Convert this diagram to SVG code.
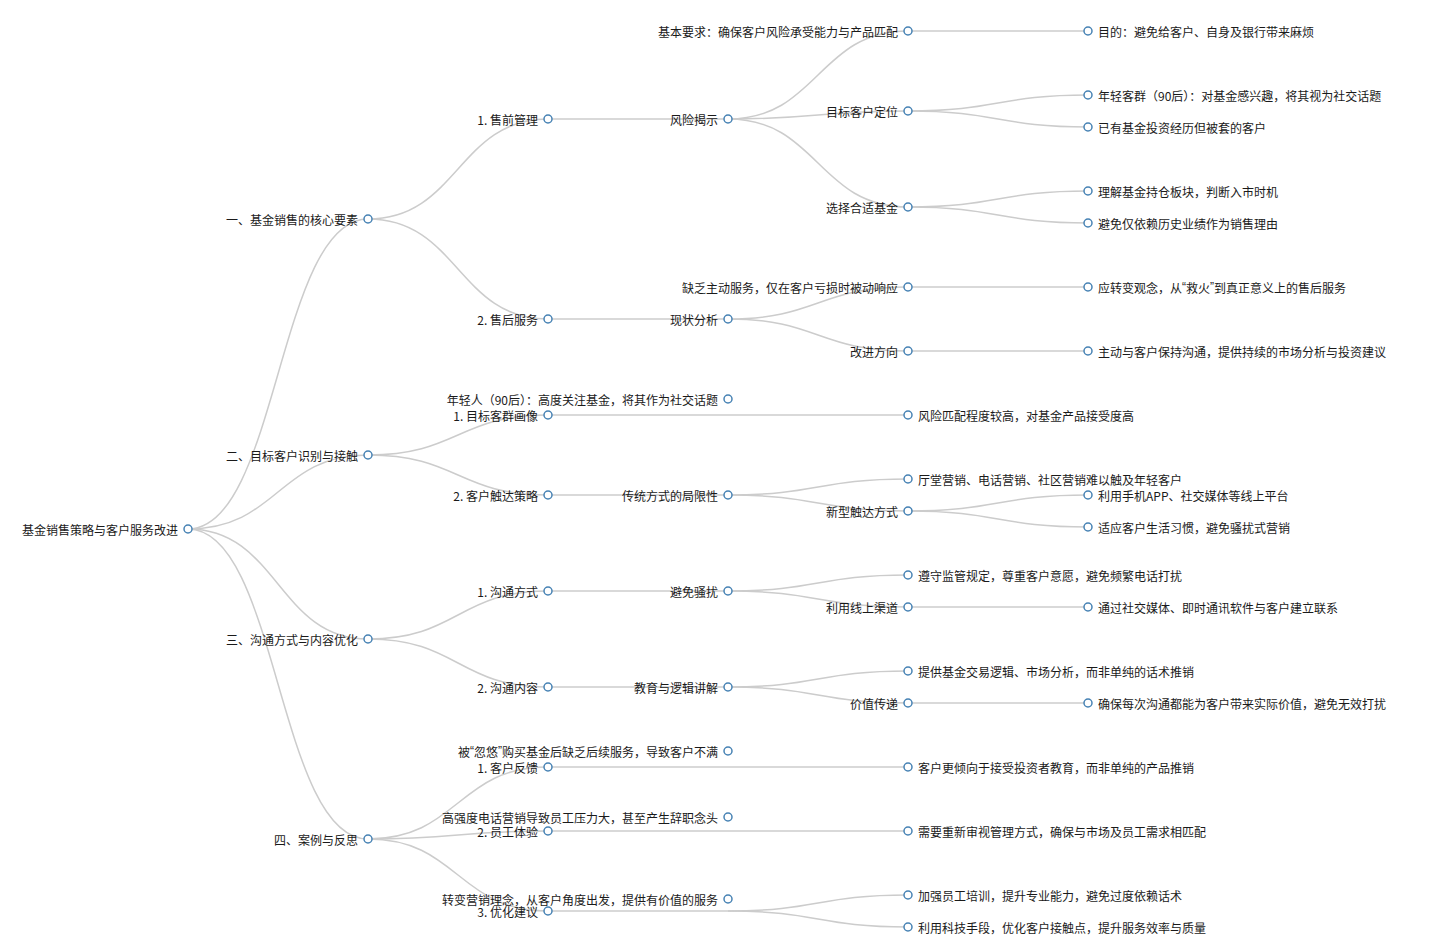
<svg xmlns="http://www.w3.org/2000/svg" width="1435" height="949" viewBox="0 0 1435 949">
<style>
.link{fill:none;stroke:#cccccc;stroke-width:1.5}
.node circle{fill:#ffffff;stroke:#4682b4;stroke-width:1.5}
.node text{font-family:"Noto Sans CJK SC","Liberation Sans",sans-serif;font-size:12px;fill:#1a1a1a;dominant-baseline:central}
.q{font-family:"Liberation Sans",sans-serif}
.l text{text-anchor:end}
.r text{text-anchor:start}
</style>
<rect width="1435" height="949" fill="#ffffff"/>
<g id="links">
<path class="link" d="M188,529C278,529 278,219 368,219"/>
<path class="link" d="M188,529C278,529 278,455 368,455"/>
<path class="link" d="M188,529C278,529 278,639 368,639"/>
<path class="link" d="M188,529C278,529 278,839 368,839"/>
<path class="link" d="M368,219C458,219 458,119 548,119"/>
<path class="link" d="M368,219C458,219 458,319 548,319"/>
<path class="link" d="M548,119H728"/>
<path class="link" d="M728,119C818,119 818,31 908,31"/>
<path class="link" d="M728,119C818,119 818,111 908,111"/>
<path class="link" d="M728,119C818,119 818,207 908,207"/>
<path class="link" d="M908,31H1088"/>
<path class="link" d="M908,111C998,111 998,95 1088,95"/>
<path class="link" d="M908,111C998,111 998,127 1088,127"/>
<path class="link" d="M908,207C998,207 998,191 1088,191"/>
<path class="link" d="M908,207C998,207 998,223 1088,223"/>
<path class="link" d="M548,319H728"/>
<path class="link" d="M728,319C818,319 818,287 908,287"/>
<path class="link" d="M728,319C818,319 818,351 908,351"/>
<path class="link" d="M908,287H1088"/>
<path class="link" d="M908,351H1088"/>
<path class="link" d="M368,455C458,455 458,415 548,415"/>
<path class="link" d="M368,455C458,455 458,495 548,495"/>
<path class="link" d="M548,415H908"/>
<path class="link" d="M548,495H728"/>
<path class="link" d="M728,495C818,495 818,479 908,479"/>
<path class="link" d="M728,495C818,495 818,511 908,511"/>
<path class="link" d="M908,511C998,511 998,495 1088,495"/>
<path class="link" d="M908,511C998,511 998,527 1088,527"/>
<path class="link" d="M368,639C458,639 458,591 548,591"/>
<path class="link" d="M368,639C458,639 458,687 548,687"/>
<path class="link" d="M548,591H728"/>
<path class="link" d="M728,591C818,591 818,575 908,575"/>
<path class="link" d="M728,591C818,591 818,607 908,607"/>
<path class="link" d="M908,607H1088"/>
<path class="link" d="M548,687H728"/>
<path class="link" d="M728,687C818,687 818,671 908,671"/>
<path class="link" d="M728,687C818,687 818,703 908,703"/>
<path class="link" d="M908,703H1088"/>
<path class="link" d="M368,839C458,839 458,767 548,767"/>
<path class="link" d="M368,839C458,839 458,831 548,831"/>
<path class="link" d="M368,839C458,839 458,911 548,911"/>
<path class="link" d="M548,767H908"/>
<path class="link" d="M548,831H908"/>
<path class="link" d="M548,911H728"/>
<path class="link" d="M728,911C818,911 818,895 908,895"/>
<path class="link" d="M728,911C818,911 818,927 908,927"/>
</g>
<g id="n-root" class="node l"><circle cx="188" cy="529" r="4"/><text x="178" y="529">基金销售策略与客户服务改进</text></g>
<g id="n-1" class="node l"><circle cx="368" cy="219" r="4"/><text x="358" y="219">一、基金销售的核心要素</text></g>
<g id="n-1-1" class="node l"><circle cx="548" cy="119" r="4"/><text x="538" y="119">1. 售前管理</text></g>
<g id="n-1-1-1" class="node l"><circle cx="728" cy="119" r="4"/><text x="718" y="119">风险揭示</text></g>
<g id="n-1-1-1-1" class="node l"><circle cx="908" cy="31" r="4"/><text x="898" y="31">基本要求：确保客户风险承受能力与产品匹配</text></g>
<g id="n-1-1-1-1-1" class="node r"><circle cx="1088" cy="31" r="4"/><text x="1098" y="31">目的：避免给客户、自身及银行带来麻烦</text></g>
<g id="n-1-1-1-2" class="node l"><circle cx="908" cy="111" r="4"/><text x="898" y="111">目标客户定位</text></g>
<g id="n-1-1-1-2-1" class="node r"><circle cx="1088" cy="95" r="4"/><text x="1098" y="95">年轻客群（90后）：对基金感兴趣，将其视为社交话题</text></g>
<g id="n-1-1-1-2-2" class="node r"><circle cx="1088" cy="127" r="4"/><text x="1098" y="127">已有基金投资经历但被套的客户</text></g>
<g id="n-1-1-1-3" class="node l"><circle cx="908" cy="207" r="4"/><text x="898" y="207">选择合适基金</text></g>
<g id="n-1-1-1-3-1" class="node r"><circle cx="1088" cy="191" r="4"/><text x="1098" y="191">理解基金持仓板块，判断入市时机</text></g>
<g id="n-1-1-1-3-2" class="node r"><circle cx="1088" cy="223" r="4"/><text x="1098" y="223">避免仅依赖历史业绩作为销售理由</text></g>
<g id="n-1-2" class="node l"><circle cx="548" cy="319" r="4"/><text x="538" y="319">2. 售后服务</text></g>
<g id="n-1-2-1" class="node l"><circle cx="728" cy="319" r="4"/><text x="718" y="319">现状分析</text></g>
<g id="n-1-2-1-1" class="node l"><circle cx="908" cy="287" r="4"/><text x="898" y="287">缺乏主动服务，仅在客户亏损时被动响应</text></g>
<g id="n-1-2-1-1-1" class="node r"><circle cx="1088" cy="287" r="4"/><text x="1098" y="287">应转变观念，从<tspan class="q">“</tspan>救火<tspan class="q">”</tspan>到真正意义上的售后服务</text></g>
<g id="n-1-2-1-2" class="node l"><circle cx="908" cy="351" r="4"/><text x="898" y="351">改进方向</text></g>
<g id="n-1-2-1-2-1" class="node r"><circle cx="1088" cy="351" r="4"/><text x="1098" y="351">主动与客户保持沟通，提供持续的市场分析与投资建议</text></g>
<g id="n-2" class="node l"><circle cx="368" cy="455" r="4"/><text x="358" y="455">二、目标客户识别与接触</text></g>
<g id="n-2-1" class="node l"><circle cx="548" cy="415" r="4"/><text x="538" y="415">1. 目标客群画像</text></g>
<g id="n-2-1-1" class="node l"><circle cx="728" cy="399" r="4"/><text x="718" y="399">年轻人（90后）：高度关注基金，将其作为社交话题</text></g>
<g id="n-2-1-1-1" class="node r"><circle cx="908" cy="415" r="4"/><text x="918" y="415">风险匹配程度较高，对基金产品接受度高</text></g>
<g id="n-2-2" class="node l"><circle cx="548" cy="495" r="4"/><text x="538" y="495">2. 客户触达策略</text></g>
<g id="n-2-2-1" class="node l"><circle cx="728" cy="495" r="4"/><text x="718" y="495">传统方式的局限性</text></g>
<g id="n-2-2-1-1" class="node r"><circle cx="908" cy="479" r="4"/><text x="918" y="479">厅堂营销、电话营销、社区营销难以触及年轻客户</text></g>
<g id="n-2-2-1-2" class="node l"><circle cx="908" cy="511" r="4"/><text x="898" y="511">新型触达方式</text></g>
<g id="n-2-2-1-2-1" class="node r"><circle cx="1088" cy="495" r="4"/><text x="1098" y="495">利用手机APP、社交媒体等线上平台</text></g>
<g id="n-2-2-1-2-2" class="node r"><circle cx="1088" cy="527" r="4"/><text x="1098" y="527">适应客户生活习惯，避免骚扰式营销</text></g>
<g id="n-3" class="node l"><circle cx="368" cy="639" r="4"/><text x="358" y="639">三、沟通方式与内容优化</text></g>
<g id="n-3-1" class="node l"><circle cx="548" cy="591" r="4"/><text x="538" y="591">1. 沟通方式</text></g>
<g id="n-3-1-1" class="node l"><circle cx="728" cy="591" r="4"/><text x="718" y="591">避免骚扰</text></g>
<g id="n-3-1-1-1" class="node r"><circle cx="908" cy="575" r="4"/><text x="918" y="575">遵守监管规定，尊重客户意愿，避免频繁电话打扰</text></g>
<g id="n-3-1-1-2" class="node l"><circle cx="908" cy="607" r="4"/><text x="898" y="607">利用线上渠道</text></g>
<g id="n-3-1-1-2-1" class="node r"><circle cx="1088" cy="607" r="4"/><text x="1098" y="607">通过社交媒体、即时通讯软件与客户建立联系</text></g>
<g id="n-3-2" class="node l"><circle cx="548" cy="687" r="4"/><text x="538" y="687">2. 沟通内容</text></g>
<g id="n-3-2-1" class="node l"><circle cx="728" cy="687" r="4"/><text x="718" y="687">教育与逻辑讲解</text></g>
<g id="n-3-2-1-1" class="node r"><circle cx="908" cy="671" r="4"/><text x="918" y="671">提供基金交易逻辑、市场分析，而非单纯的话术推销</text></g>
<g id="n-3-2-1-2" class="node l"><circle cx="908" cy="703" r="4"/><text x="898" y="703">价值传递</text></g>
<g id="n-3-2-1-2-1" class="node r"><circle cx="1088" cy="703" r="4"/><text x="1098" y="703">确保每次沟通都能为客户带来实际价值，避免无效打扰</text></g>
<g id="n-4" class="node l"><circle cx="368" cy="839" r="4"/><text x="358" y="839">四、案例与反思</text></g>
<g id="n-4-1" class="node l"><circle cx="548" cy="767" r="4"/><text x="538" y="767">1. 客户反馈</text></g>
<g id="n-4-1-1" class="node l"><circle cx="728" cy="751" r="4"/><text x="718" y="751">被<tspan class="q">“</tspan>忽悠<tspan class="q">”</tspan>购买基金后缺乏后续服务，导致客户不满</text></g>
<g id="n-4-1-1-1" class="node r"><circle cx="908" cy="767" r="4"/><text x="918" y="767">客户更倾向于接受投资者教育，而非单纯的产品推销</text></g>
<g id="n-4-2" class="node l"><circle cx="548" cy="831" r="4"/><text x="538" y="831">2. 员工体验</text></g>
<g id="n-4-2-1" class="node l"><circle cx="728" cy="817" r="4"/><text x="718" y="817">高强度电话营销导致员工压力大，甚至产生辞职念头</text></g>
<g id="n-4-2-1-1" class="node r"><circle cx="908" cy="831" r="4"/><text x="918" y="831">需要重新审视管理方式，确保与市场及员工需求相匹配</text></g>
<g id="n-4-3" class="node l"><circle cx="548" cy="911" r="4"/><text x="538" y="911">3. 优化建议</text></g>
<g id="n-4-3-1" class="node l"><circle cx="728" cy="899" r="4"/><text x="718" y="899">转变营销理念，从客户角度出发，提供有价值的服务</text></g>
<g id="n-4-3-1-1" class="node r"><circle cx="908" cy="895" r="4"/><text x="918" y="895">加强员工培训，提升专业能力，避免过度依赖话术</text></g>
<g id="n-4-3-1-2" class="node r"><circle cx="908" cy="927" r="4"/><text x="918" y="927">利用科技手段，优化客户接触点，提升服务效率与质量</text></g>
</svg>
